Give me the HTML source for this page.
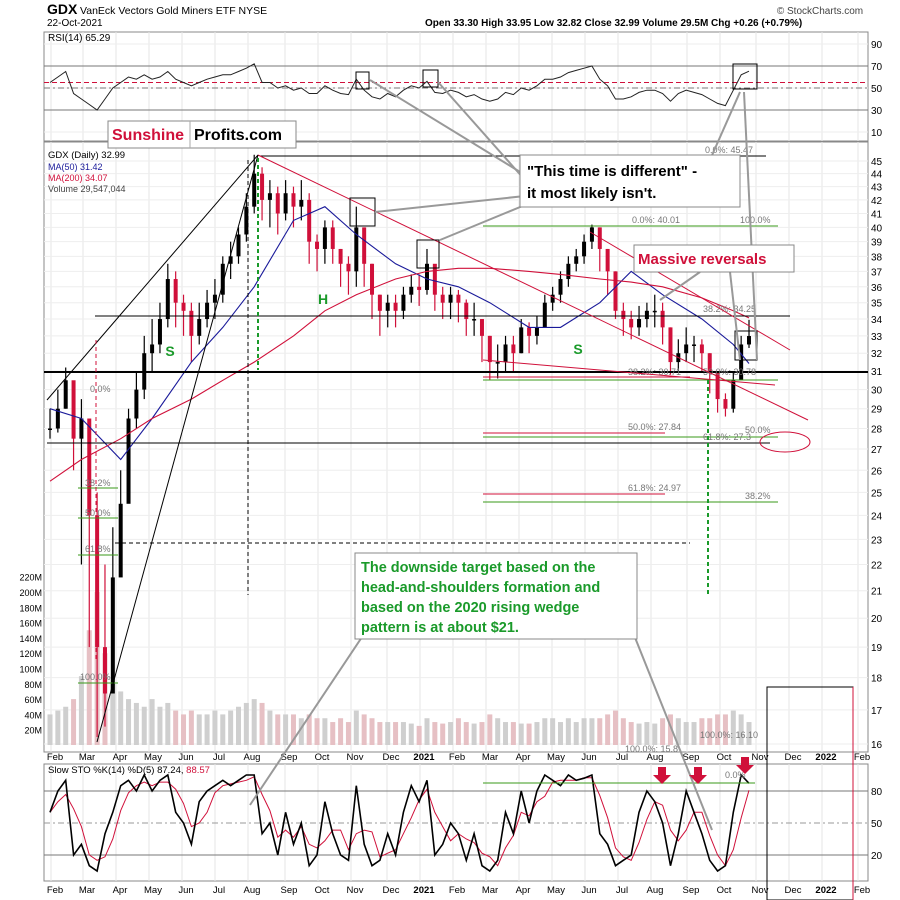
<!DOCTYPE html>
<html><head><meta charset="utf-8"><style>
body{margin:0;background:#fff;width:900px;height:900px;overflow:hidden;font-family:"Liberation Sans",sans-serif}
svg{display:block}
</style></head><body>
<svg id="c" width="900" height="900" xmlns="http://www.w3.org/2000/svg" font-family="Liberation Sans, sans-serif">
<text x="47" y="14" font-size="14" font-weight="bold">GDX</text>
<text x="80" y="14" font-size="10.5">VanEck Vectors Gold Miners ETF  NYSE</text>
<text x="47" y="26" font-size="10">22-Oct-2021</text>
<text x="425" y="26" font-size="10" font-weight="bold">Open 33.30  High 33.95  Low 32.82  Close 32.99  Volume 29.5M  Chg +0.26 (+0.79%)</text>
<text x="820" y="14" font-size="10" fill="#444" text-anchor="middle">© StockCharts.com</text>
<g id="grid"></g>
<g id="plot"></g>
<g id="ann"></g>
</svg>
<script>
const NS="http://www.w3.org/2000/svg";
const closes=[28.0,29.0,30.5,27.5, 28.5,24.0,19.0,17.5,21.5, 24.5,28.5,30.0,32.0, 32.5,34.0,36.5,35.0,34.5, 33.0,34.0,35.0,35.5, 37.5,38.0,39.5,41.5, 44.0,42.0,42.5,41.0,42.5, 41.5,42.0,39.0,38.5, 40.0,38.5,37.5,37.0, 40.0,37.5,35.5,34.5,35.0, 34.5,35.5,36.0,35.8, 37.5,35.5,35.0,35.5, 35.0,34.0,34.0,33.0, 31.5,31.5,32.5,32.0,33.5, 33.0,33.5,35.0,35.5, 36.5,37.5,38.0,39.0,40.0, 38.5,37.0,34.5,34.0, 33.5,34.0,34.5,34.5, 33.5,31.5,32.0,32.5,32.5, 32.0,31.0,29.5,29.0, 30.5,32.5,32.99];
const lows=[27.5,27.8,29.0,26.0, 22.0,19.0,16.2,16.5,18.0, 22.5,25.0,28.0,29.5, 31.0,32.0,33.5,33.5,33.0, 31.5,32.5,33.5,34.0, 35.0,36.5,37.5,39.0, 41.0,40.5,40.0,39.5,40.5, 40.0,40.5,37.5,37.0, 37.5,37.5,36.0,35.5, 36.0,36.0,34.0,33.0,33.5, 33.5,34.0,35.0,34.8, 35.5,34.5,34.0,34.0, 33.8,33.0,33.0,31.5, 30.5,30.6,31.0,31.0,32.0, 32.0,32.5,33.5,34.5, 35.0,36.0,37.0,37.5,38.5, 37.0,35.5,34.0,33.0, 32.8,33.0,33.5,33.5, 32.5,30.8,31.0,31.5,31.5, 31.0,29.8,28.8,28.6, 28.8,30.5,32.3];
const highs=[29.0,30.0,31.2,30.0, 29.5,28.0,25.0,22.0,23.5, 26.0,29.0,31.0,33.0, 34.0,35.0,37.5,37.0,35.5, 35.0,35.0,35.8,36.5, 38.0,39.0,40.0,42.5, 45.5,44.5,43.5,43.0,43.5, 43.0,43.5,42.5,39.5, 40.5,40.5,38.5,38.0, 41.5,40.0,37.5,35.5,35.5, 35.5,36.0,36.8,36.8, 38.5,37.0,36.0,36.0, 35.8,35.2,35.0,34.0, 33.0,32.5,33.0,33.0,34.0, 33.8,34.2,35.5,36.0, 37.0,38.0,38.5,39.5,40.2, 40.0,38.5,37.0,35.0, 34.5,34.8,35.0,35.5, 35.0,33.5,32.8,33.5,33.0, 32.8,32.0,30.5,29.8, 31.0,33.0,33.95];
const volumes=[40,45,50,60, 90,150,200,120,80, 70,60,55,50, 60,50,55,45,40, 45,40,40,45, 40,45,50,55, 60,55,45,40,40, 40,35,40,35, 35,30,35,30, 45,40,35,30,30, 30,30,28,25, 35,30,28,30, 35,30,28,30, 40,35,30,30,28, 28,30,35,35, 30,35,30,35,35, 35,40,45,35, 30,28,30,28, 35,40,35,30,30, 35,35,40,40, 45,40,30];
const rsi=[55,60,65,45, 40,35,30,40,50, 55,60,58,62, 58,60,65,58,55, 52,55,58,60, 62,62,65,68, 72,55,55,50,52, 48,50,45,45, 52,48,45,44, 58,48,42,40,45, 42,48,52,50, 56,46,45,48, 46,42,44,40, 38,40,46,44,50, 48,52,58,58, 60,64,66,68,70, 58,52,40,40, 42,46,48,48, 45,38,45,48,46, 44,40,36,34, 48,62,65.29];
const stochK=[60,80,90,20, 30,10,5,40,60, 85,90,80,95, 80,90,95,60,50, 30,70,80,85, 90,85,90,95, 95,40,50,20,60, 30,50,10,20, 70,40,20,15, 85,30,10,15,40, 20,60,85,70, 90,20,30,50, 40,15,40,10, 5,15,60,40,80, 50,80,95,90, 85,95,90,92,95, 40,30,10,15, 20,60,80,70, 50,10,40,80,60, 40,15,5,10, 60,95,87.24];
const maWeeks=[0,4,9,13,18,22,26,31,35,39,44,48,52,56,61,65,70,74,78,83,87,89];
const ma50=[29.0,28.5,26.5,28.5,31.5,33.5,36.0,40.5,41.5,39.5,37.5,36.5,36.0,35.0,33.5,33.5,35.0,37.0,35.5,34.0,32.5,31.42];
const ma200=[25.5,26.5,27.5,28.5,29.5,30.5,31.5,33.0,34.5,35.5,36.5,37.0,37.2,37.2,37.0,36.8,36.5,36.3,36.0,35.3,34.5,34.07];
const monthLabels=["Feb","Mar","Apr","May","Jun","Jul","Aug","Sep","Oct","Nov","Dec","2021","Feb","Mar","Apr","May","Jun","Jul","Aug","Sep","Oct","Nov","Dec","2022","Feb"];
const monthX=[55,87,120,153,186,219,252,289,322,355,391,424,457,490,523,556,589,622,655,691,724,760,793,826,862];
const priceTicks=[16,17,18,19,20,21,22,23,24,25,26,27,28,29,30,31,32,33,34,35,36,37,38,39,40,41,42,43,44,45];
const volTicks=[20,40,60,80,100,120,140,160,180,200,220];
const rsiTicks=[10,30,50,70,90];
const stoTicks=[20,50,80];

const L=44,R=868;
const xw=i=>50+i*7.854;
const yp=p=>161+(Math.log(45)-Math.log(p))*563.8;
const yv=v=>745-v*0.765;
const yr=v=>88-(v-50)*1.1;
const ys=v=>823-(v-50)*1.067;
function mk(tag,at,parent,txt){const e=document.createElementNS(NS,tag);for(const k in at)e.setAttribute(k,at[k]);if(txt!==undefined)e.textContent=txt;(parent||document.getElementById('plot')).appendChild(e);return e;}
const G=document.getElementById('grid'),P=document.getElementById('plot');

const panels=[[32,141],[142,752],[764,881]];
panels.forEach((p,k)=>{
  const r=mk('rect',{x:L,y:p[0],width:R-L,height:p[1]-p[0],fill:'#fff',stroke:'#888','stroke-width':1},G);
  
  
});
monthX.forEach(x=>{panels.forEach(p=>mk('line',{x1:x-4,x2:x-4,y1:p[0],y2:p[1],stroke:'#e6e6e6'},G));});
priceTicks.forEach(t=>{const y=yp(t);mk('line',{x1:L,x2:R,y1:y,y2:y,stroke:'#eeeeee'},G);
  const tx=mk('text',{x:871,y:y+4,'font-size':10},G,String(t));
  
  });
volTicks.forEach(t=>{const tx=mk('text',{x:42,y:yv(t)+4,'font-size':9,'text-anchor':'end'},G,t+'M');
  
  });
rsiTicks.forEach(t=>{const y=yr(t);mk('line',{x1:L,x2:R,y1:y,y2:y,stroke:(t==30||t==70)?'#777':'#eeeeee'},G);
  const tx=mk('text',{x:871,y:y+4,'font-size':10},G,String(t));
  
  });
stoTicks.forEach(t=>{const y=ys(t);mk('line',{x1:L,x2:R,y1:y,y2:y,stroke:t==50?'#999':'#777','stroke-dasharray':t==50?'6,3,2,3':''},G);
  const tx=mk('text',{x:871,y:y+4,'font-size':10},G,String(t));
  
  });
monthLabels.forEach((m,i)=>{[757,890].forEach(y=>{const tx=mk('text',{x:monthX[i],y:y+3,'font-size':9.5,'text-anchor':'middle','font-weight':m.length==4?'bold':'normal'},G,m);
  
  });});
mk('line',{x1:L,x2:R,y1:yr(55),y2:yr(55),stroke:'#d0103a','stroke-dasharray':'5,3'},G);
mk('line',{x1:L,x2:R,y1:yr(50),y2:yr(50),stroke:'#777','stroke-dasharray':'6,3,2,3'},G);

volumes.forEach((v,i)=>{const b=mk('rect',{x:xw(i)-2.5,y:yv(v),width:5,height:745-yv(v),fill:closes[i]>=(closes[i-1]||closes[i])?'#cfcfcf':'#e6c0c4'},P);
  
  });
closes.forEach((c,i)=>{const o=i?closes[i-1]:c;const x=xw(i);const col=c>=o?'#000':'#d0103a';
  mk('line',{x1:x,x2:x,y1:yp(highs[i]),y2:yp(lows[i]),stroke:col,'stroke-width':1.2},P);
  const b=mk('rect',{x:x-2,y:Math.min(yp(o),yp(c)),width:4,height:Math.max(1.5,Math.abs(yp(o)-yp(c))),fill:col},P);
  
  });
function maPath(arr,col,name){const d=arr.map((v,k)=>(k?'L':'M')+xw(maWeeks[k]).toFixed(1)+','+yp(v).toFixed(1)).join('');
  const p=mk('path',{d:d,fill:'none',stroke:col,'stroke-width':1.1},P);
  
  }
maPath(ma50,'#1a1a9a','ma50-line');maPath(ma200,'#d0103a','ma200-line');
{const d=rsi.map((v,i)=>(i?'L':'M')+xw(i).toFixed(1)+','+yr(v).toFixed(1)).join('');
 const p=mk('path',{d:d,fill:'none',stroke:'#222','stroke-width':1},P);
 
 }
{const d=stochK.map((v,i)=>(i?'L':'M')+xw(i).toFixed(1)+','+ys(v).toFixed(1)).join('');
 const dv=stochK.map((v,i)=>{const a=stochK.slice(Math.max(0,i-2),i+1);return a.reduce((s,x)=>s+x,0)/a.length;});
 const d2=dv.map((v,i)=>(i?'L':'M')+xw(i).toFixed(1)+','+ys(v).toFixed(1)).join('');
 const p2=mk('path',{d:d2,fill:'none',stroke:'#d0103a','stroke-width':1},P);
 
 
 const p=mk('path',{d:d,fill:'none',stroke:'#000','stroke-width':1.6},P);
 
 }
</script>
<svg width="900" height="900" style="position:absolute;left:0;top:0" font-family="Liberation Sans, sans-serif">
<text x="48" y="41" font-size="10">RSI(14) 65.29</text>
<text x="48" y="158" font-size="9.5">GDX (Daily) 32.99</text>
<text x="48" y="170" font-size="9" fill="#1a1a9a">MA(50) 31.42</text>
<text x="48" y="181" font-size="9" fill="#d0103a">MA(200) 34.07</text>
<text x="48" y="192" font-size="9" fill="#444">Volume 29,547,044</text>
<text x="48" y="773" font-size="9.5">Slow STO %K(14) %D(5) 87.24, <tspan fill="#d0103a">88.57</tspan></text>
<line x1="44" x2="868" y1="372" y2="372" stroke="#000" stroke-width="2"/>
<line x1="95" x2="790" y1="316" y2="316" stroke="#000"/>
<line x1="260" x2="766" y1="156" y2="156" stroke="#000"/>
<line x1="47" x2="770" y1="443" y2="443" stroke="#000"/>
<line x1="115" x2="690" y1="543" y2="543" stroke="#000" stroke-dasharray="4,3"/>
<line x1="483" x2="778" y1="226" y2="226" stroke="#3a9a1a"/>
<line x1="483" x2="778" y1="380" y2="380" stroke="#3a9a1a"/>
<line x1="483" x2="778" y1="437" y2="437" stroke="#3a9a1a"/>
<line x1="483" x2="778" y1="502" y2="502" stroke="#3a9a1a"/>
<line x1="483" x2="665" y1="433" y2="433" stroke="#d0103a"/>
<line x1="483" x2="665" y1="494" y2="494" stroke="#d0103a"/>
<line x1="483" x2="690" y1="377" y2="377" stroke="#d0103a"/>
<line x1="483" x2="755" y1="783" y2="783" stroke="#3a9a1a"/>
<line x1="78" x2="118" y1="488" y2="488" stroke="#3a9a1a"/><line x1="78" x2="118" y1="518" y2="518" stroke="#3a9a1a"/><line x1="78" x2="118" y1="555" y2="555" stroke="#3a9a1a"/><line x1="78" x2="118" y1="683" y2="683" stroke="#3a9a1a"/>
<g font-size="9" fill="#777">
<text x="705" y="153">0.0%: 45.47</text><text x="632" y="223">0.0%: 40.01</text><text x="740" y="223">100.0%</text>
<text x="703" y="312">38.2%: 34.25</text><text x="628" y="375">38.2%: 30.71</text><text x="703" y="375">50.0%: 30.78</text>
<text x="628" y="430">50.0%: 27.84</text><text x="703" y="440">61.8%: 27.3</text><text x="745" y="433">50.0%</text>
<text x="628" y="491">61.8%: 24.97</text><text x="745" y="499">38.2%</text><text x="90" y="392">0.0%</text>
<text x="85" y="486">38.2%</text><text x="85" y="516">50.0%</text><text x="85" y="552">61.8%</text><text x="80" y="680">100.0%</text>
<text x="625" y="752">100.0%: 15.8</text><text x="700" y="738">100.0%: 16.10</text><text x="725" y="778">0.0%</text>
</g>
<line x1="258" y1="155" x2="808" y2="420" stroke="#d0103a"/>
<line x1="483" y1="360" x2="775" y2="385" stroke="#d0103a"/>
<line x1="590" y1="232" x2="790" y2="350" stroke="#d0103a"/>
<line x1="97" y1="742" x2="258" y2="155" stroke="#000"/>
<line x1="47" y1="400" x2="258" y2="155" stroke="#000"/>
<line x1="258" y1="158" x2="258" y2="370" stroke="#1a9a2a" stroke-width="2" stroke-dasharray="4,3"/>
<line x1="248" y1="160" x2="248" y2="595" stroke="#000" stroke-dasharray="4,3"/>
<line x1="708" y1="380" x2="708" y2="595" stroke="#1a9a2a" stroke-width="2" stroke-dasharray="4,3"/>
<line x1="96" y1="340" x2="96" y2="660" stroke="#d0103a" stroke-dasharray="4,3"/>
<ellipse cx="785" cy="442" rx="25" ry="10" fill="none" stroke="#d0103a"/>
<text x="170" y="356" font-size="14" font-weight="bold" fill="#1a9a2a" text-anchor="middle">S</text>
<text x="323" y="304" font-size="14" font-weight="bold" fill="#1a9a2a" text-anchor="middle">H</text>
<text x="578" y="354" font-size="14" font-weight="bold" fill="#1a9a2a" text-anchor="middle">S</text>
<rect x="356" y="72" width="13" height="17" fill="none" stroke="#000"/><rect x="423" y="70" width="15" height="17" fill="none" stroke="#000"/><rect x="733" y="64" width="24" height="25" fill="none" stroke="#000"/>
<rect x="350" y="198" width="25" height="28" fill="none" stroke="#000"/><rect x="417" y="240" width="22" height="28" fill="none" stroke="#000"/><rect x="735" y="331" width="22" height="29" fill="none" stroke="#000"/>
<g stroke="#999" stroke-width="2" fill="none">
<polyline points="370,80 525,175"/><polyline points="438,82 525,180"/><polyline points="375,212 525,196"/><polyline points="440,240 525,205"/>
<polyline points="740,92 690,205"/><polyline points="740,360 730,272"/><polyline points="660,300 700,272"/>
<polyline points="250,805 370,625"/><polyline points="712,830 630,625"/><polyline points="744,92 757,360"/>
</g>
<rect x="108" y="121" width="188" height="27" fill="#fff" stroke="#888"/>
<text x="112" y="140" font-size="16" font-weight="bold" fill="#d0103a">Sunshine</text>
<line x1="190" y1="121" x2="190" y2="148" stroke="#aaa"/>
<text x="194" y="140" font-size="16" font-weight="bold">Profits.com</text>
<rect x="520" y="155" width="220" height="52" fill="#fff" stroke="#888"/>
<text x="527" y="176" font-size="15" font-weight="bold">"This time is different" -</text>
<text x="527" y="198" font-size="15" font-weight="bold">it most likely isn't.</text>
<rect x="634" y="245" width="160" height="27" fill="#fff" stroke="#888"/>
<text x="638" y="264" font-size="15" font-weight="bold" fill="#d0103a">Massive reversals</text>
<rect x="355" y="553" width="282" height="86" fill="#fff" stroke="#888"/>
<g font-size="14.5" font-weight="bold" fill="#1a9a2a">
<text x="361" y="572">The downside target based on the</text>
<text x="361" y="592">head-and-shoulders formation and</text>
<text x="361" y="612">based on the 2020 rising wedge</text>
<text x="361" y="632">pattern is at about $21.</text>
</g>
<rect x="767" y="687" width="86" height="213" fill="none" stroke="#000"/>
<line x1="853" y1="687" x2="853" y2="900" stroke="#d0103a"/>
<g fill="#d0103a">
<path d="M658,767h8v8h5l-9,9l-9,-9h5z"/><path d="M694,767h8v8h5l-9,9l-9,-9h5z"/><path d="M741,757h8v8h5l-9,9l-9,-9h5z"/>
</g>
</svg>
</body></html>
